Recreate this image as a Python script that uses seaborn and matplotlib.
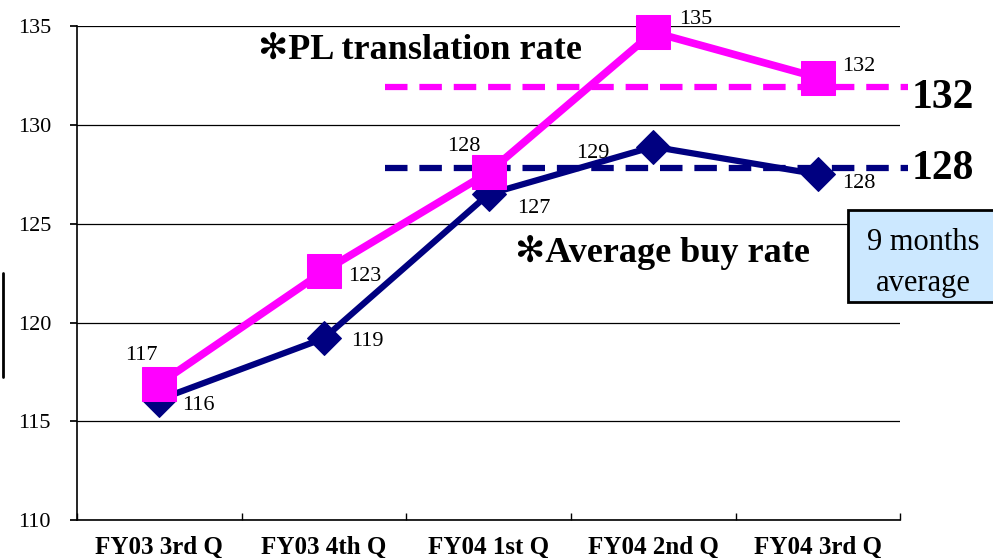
import numpy as np
import pandas as pd
import seaborn as sns
import matplotlib.pyplot as plt
import matplotlib.patches as patches
from matplotlib.ticker import FixedLocator

quarters = ["FY03 3rd Q", "FY03 4th Q", "FY04 1st Q", "FY04 2nd Q", "FY04 3rd Q"]
pl_rate = [116.9, 122.6, 127.6, 134.7, 132.4]
buy_rate = [116.1, 119.2, 126.5, 128.9, 127.5]
pl_labels = ["117", "123", "128", "135", "132"]
buy_labels = ["116", "119", "127", "129", "128"]
pl_avg = 131.9
buy_avg = 127.8

pink = "#FF00FF"
navy = "#000080"

sns.set_theme(style="white")
plt.rcParams["font.family"] = ["Liberation Serif", "DejaVu Sans"]
plt.rcParams["text.color"] = "black"
plt.rcParams["xtick.color"] = "black"
plt.rcParams["ytick.color"] = "black"

fig = plt.figure(figsize=(9.93, 5.58), dpi=100)
ax = fig.add_axes([0.0775, 0.068, 0.829, 0.885])

x = np.arange(len(quarters))
df = pd.DataFrame({"x": x, "pl": pl_rate, "buy": buy_rate})

# 9 month averages (dashed)
ax.plot([1.37, 4.55], [pl_avg, pl_avg], color=pink, lw=4.5, dashes=(3.6, 1.9), clip_on=False, zorder=2)
ax.plot([1.37, 4.55], [buy_avg, buy_avg], color=navy, lw=4.5, dashes=(3.6, 1.9), clip_on=False, zorder=2)

sns.lineplot(data=df, x="x", y="buy", ax=ax, color=navy, lw=4.5, marker="D", markersize=17,
             markeredgecolor=navy, clip_on=False, zorder=3)
sns.lineplot(data=df, x="x", y="pl", ax=ax, color=pink, lw=5.5, marker="s", markersize=24,
             markeredgecolor=pink, clip_on=False, zorder=4)

pl_off = [(-18, 28), (41, -5), (-25, 26), (43, 13), (41, 11)]
buy_off = [(39, -6), (43, -3), (45, -14), (-60, -7), (41, -9)]
for i in range(len(quarters)):
    ax.annotate(pl_labels[i], (x[i], pl_rate[i]), xytext=pl_off[i], textcoords="offset pixels",
                ha="center", va="center", fontsize=16, zorder=5)
    ax.annotate(buy_labels[i], (x[i], buy_rate[i]), xytext=buy_off[i], textcoords="offset pixels",
                ha="center", va="center", fontsize=16, zorder=5)

ax.set_xlim(-0.5, 4.5)
ax.set_ylim(110, 135)
ax.set_yticks([110, 115, 120, 125, 130, 135])
ax.yaxis.grid(True, color="black", lw=0.9)
ax.set_axisbelow(True)
ax.set_xticks(x)
ax.set_xticklabels(quarters, fontsize=18, fontweight="bold")
ax.xaxis.set_minor_locator(FixedLocator(np.arange(-0.5, 5, 1)))
ax.tick_params(axis="x", which="major", length=0, pad=11)
ax.tick_params(axis="x", which="minor", direction="in", length=5, color="black", bottom=True)
ax.tick_params(axis="y", length=5, color="black", left=True, labelsize=16, pad=37.5)
for lab in ax.get_yticklabels():
    lab.set_horizontalalignment("left")
ax.set_xlabel("")
ax.set_ylabel("")
for s in ["top", "right"]:
    ax.spines[s].set_visible(False)
for s in ["left", "bottom"]:
    ax.spines[s].set_color("black")
    ax.spines[s].set_linewidth(1.2)

fig.text(0.26, 0.91, "\u273bPL translation rate", fontsize=26, fontweight="bold", va="center", ha="left")
fig.text(0.519, 0.547, "\u273bAverage buy rate", fontsize=26, fontweight="bold", va="center", ha="left")
fig.text(0.918, 0.824, "132", fontsize=30, fontweight="bold", va="center", ha="left")
fig.text(0.918, 0.698, "128", fontsize=30, fontweight="bold", va="center", ha="left")

box = patches.Rectangle((848 / 993, 1 - 302 / 558), 0.2, 92 / 558, transform=fig.transFigure,
                        facecolor="#CCE8FF", edgecolor="black", lw=2, zorder=1)
fig.patches.append(box)
fig.text(923 / 993, 1 - 263 / 558, "9 months\naverage", fontsize=22, ha="center", va="center",
         linespacing=1.55)

fig.add_artist(plt.Line2D([0.003, 0.003], [1 - 377 / 558, 1 - 273 / 558], color="black", lw=2,
                          transform=fig.transFigure))

fig.savefig("out.png", dpi=100)
